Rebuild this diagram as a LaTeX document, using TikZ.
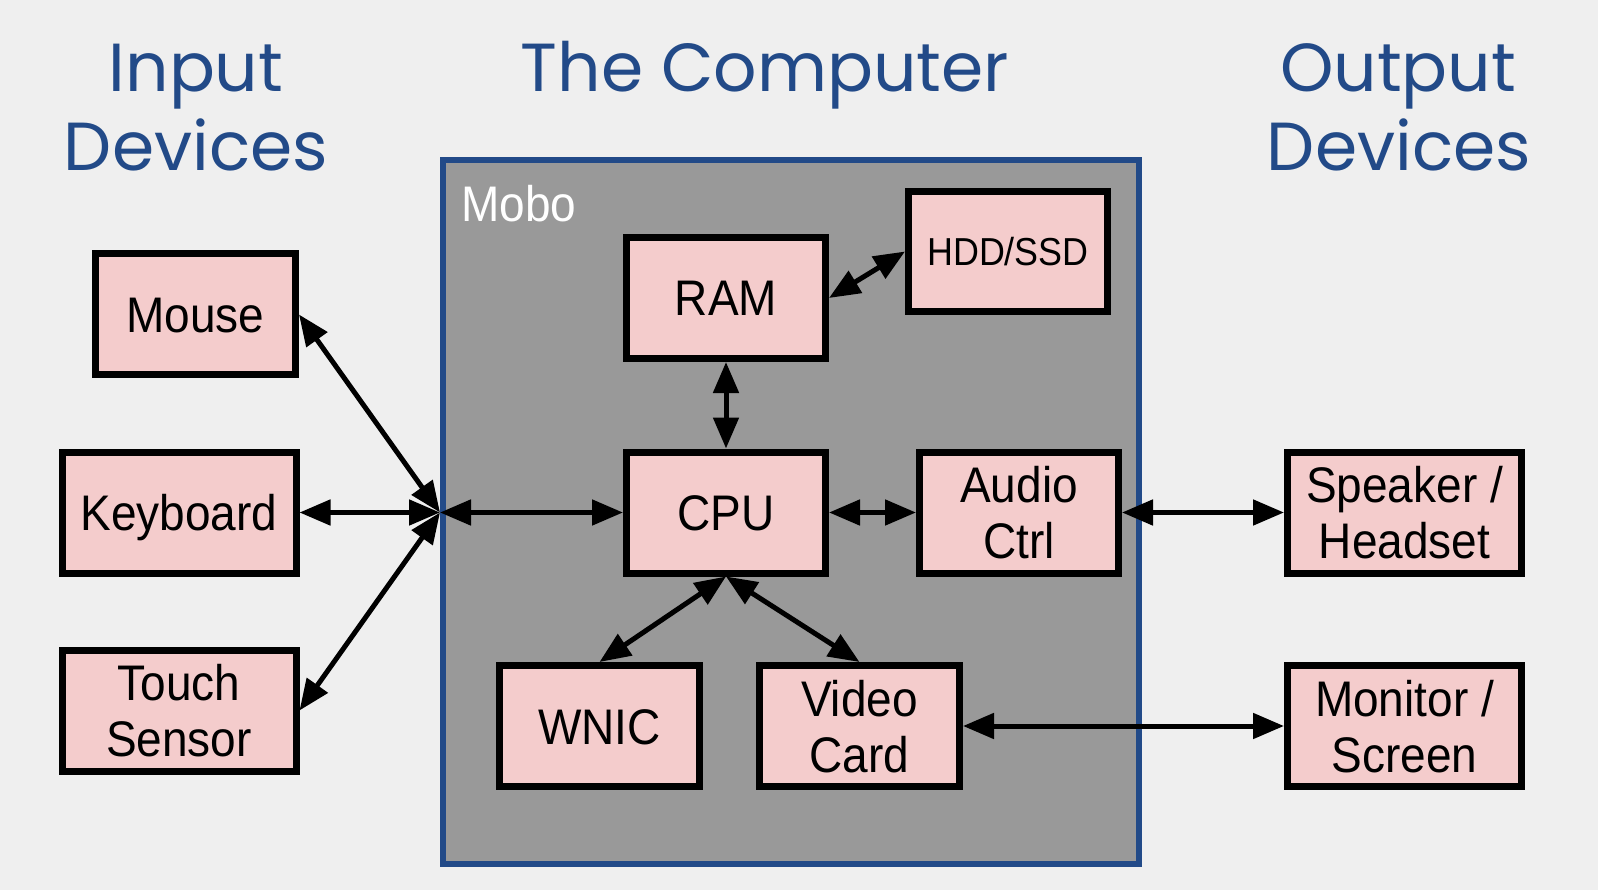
\documentclass[tikz,border=0pt]{standalone}
\usepackage{fontspec}
\usetikzlibrary{arrows.meta}
\newfontfamily\boxfont[FakeStretch=0.92]{Liberation Sans}
\newfontfamily\titlefont{Poppins}
\definecolor{bgcol}{HTML}{EFEFEF}
\definecolor{boxpink}{HTML}{F4CCCC}
\definecolor{mobogray}{HTML}{999999}
\definecolor{moboblue}{HTML}{224A88}
\definecolor{titleblue}{HTML}{224A88}
\newcommand{\twolines}[2]{\begin{tabular}[t]{@{}c@{}}#1\\#2\end{tabular}}
\tikzset{
  devbox/.style={draw=black, line width=7pt, fill=boxpink, inner sep=0pt,
    minimum width=199pt, minimum height=121pt,
    font=\boxfont\fontsize{50}{56}\selectfont, text height=36pt, text depth=0pt},
  widebox/.style={devbox, minimum width=234pt},
  twoline/.style={text depth=56pt},
  biarrow/.style={line width=5pt, arrows={Triangle[length=31pt,width=25pt]-Triangle[length=31pt,width=25pt]}},
  titletext/.style={text=titleblue, font=\titlefont\fontsize{68}{80}\selectfont, anchor=base, inner sep=0pt},
}
\begin{document}
\begin{tikzpicture}[x=1pt,y=-1pt]
\fill[bgcol] (0,0) rectangle (1598,890);
\useasboundingbox (0,0) rectangle (1598,890);

% titles
\node[titletext] (t1a) at (196,92) {Input};
\node[titletext] (t1b) at (196,171) {Devices};
\node[titletext] (t2) at (765,92) {The Computer};
\node[titletext] (t3a) at (1398,92) {Output};
\node[titletext] (t3b) at (1399,171) {Devices};

% motherboard
\node[draw=moboblue, line width=6pt, fill=mobogray, minimum width=696pt, minimum height=704pt, inner sep=0pt] (mobo) at (791,512) {};
\node[anchor=base west, text=white, inner sep=0pt, font=\boxfont\fontsize{50}{56}\selectfont] (mobolbl) at (461,222) {Mobo};
\coordinate (junc) at (mobo.west |- 0,512.5);

% input devices
\node[devbox, minimum width=200pt] (mouse) at (195.5,314.5) {Mouse};
\node[widebox] (keyboard) at (179,512.5) {Keyboard};
\node[widebox, twoline] (touch) at (179,710.5) {\twolines{Touch}{Sensor}};

% computer
\node[devbox] (ram) at (726,298) {RAM};
\node[devbox, minimum height=120pt, font=\boxfont\fontsize{39}{44}\selectfont, text height=28pt] (hdd) at (1008,251.5) {HDD/SSD};
\node[devbox] (cpu) at (726,512.5) {CPU};
\node[devbox, twoline] (audio) at (1019,512.5) {\twolines{Audio}{Ctrl}};
\node[devbox, minimum width=200pt] (wnic) at (599.5,726) {WNIC};
\node[devbox, minimum width=200pt, twoline] (video) at (859.5,726) {\twolines{Video}{Card}};

% output devices
\node[widebox, twoline] (speaker) at (1404.5,512.5) {\twolines{Speaker /}{Headset}};
\node[widebox, twoline] (monitor) at (1404.5,726) {\twolines{Monitor /}{Screen}};

% connectors
\draw[biarrow] (mouse.east) -- (junc);
\draw[biarrow] (keyboard.east) -- (junc);
\draw[biarrow] (touch.east) -- (junc);
\draw[biarrow] (junc) -- (cpu.west);
\draw[biarrow] (ram.south) -- (cpu.north);
\draw[biarrow] (ram.east) -- (hdd.west);
\draw[biarrow] (cpu.east) -- (audio.west);
\draw[biarrow] (audio.east) -- (speaker.west);
\draw[biarrow] (cpu.south) -- (wnic.north);
\draw[biarrow] (cpu.south) -- (video.north);
\draw[biarrow] (video.east) -- (monitor.west);
\end{tikzpicture}
\end{document}
